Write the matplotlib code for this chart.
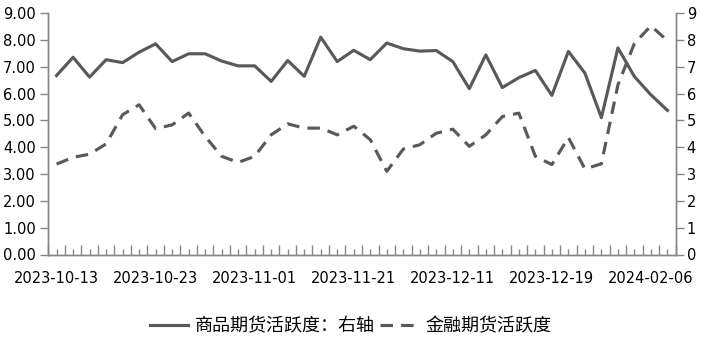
import matplotlib
matplotlib.use("Agg")
import matplotlib.pyplot as plt
from matplotlib.ticker import FixedLocator, FuncFormatter

plt.rcParams['font.family'] = ['DejaVu Sans']

# 38 observations, labels every 6th
date_labels = ["2023-10-13", "2023-10-23", "2023-11-01", "2023-11-21",
               "2023-12-11", "2023-12-19", "2024-02-06"]
label_step = 6

commodity = [6.67, 7.35, 6.61, 7.26, 7.15, 7.54, 7.85, 7.19, 7.48, 7.48,
             7.21, 7.03, 7.03, 6.45, 7.23, 6.64, 8.10, 7.19, 7.61, 7.26,
             7.88, 7.67, 7.58, 7.60, 7.19, 6.18, 7.44, 6.22, 6.59, 6.86,
             5.93, 7.57, 6.76, 5.10, 7.70, 6.63, 5.95, 5.37]
financial = [3.37, 3.62, 3.74, 4.12, 5.21, 5.58, 4.69, 4.83, 5.27, 4.40,
             3.66, 3.43, 3.66, 4.46, 4.87, 4.71, 4.71, 4.46, 4.78, 4.28,
             3.10, 3.93, 4.09, 4.52, 4.67, 4.03, 4.46, 5.14, 5.27, 3.66,
             3.35, 4.36, 3.19, 3.38, 6.32, 7.87, 8.52, 7.97]

n = len(commodity)
x = list(range(n))
line_c = '#595959'
axis_c = '#868686'

fig = plt.figure(figsize=(7.01, 3.44), dpi=100)
ax = fig.add_axes([48.3 / 701, 89.5 / 344, 627.4 / 701, 241.5 / 344])
ax2 = ax.twinx()

l2, = ax.plot(x, financial, color=line_c, lw=2.25, dashes=(4, 2.6),
              label='金融期货活跃度')
l1, = ax2.plot(x, commodity, color=line_c, lw=2.25,
               label='商品期货活跃度：右轴')

for a in (ax, ax2):
    a.set_xlim(-0.5, n - 0.5)
    a.set_ylim(0, 9)
    a.spines['top'].set_visible(False)
    for s in ('left', 'right', 'bottom'):
        a.spines[s].set_color(axis_c)
        a.spines[s].set_linewidth(1)

ax.set_yticks(range(10))
ax.yaxis.set_major_formatter(FuncFormatter(lambda v, p: f"{v:.2f}"))
ax.tick_params(axis='y', direction='out', length=6, width=1, color=axis_c,
               labelsize=10.5, pad=3, labelcolor='black')
ax2.set_yticks(range(10))
ax2.tick_params(axis='y', direction='out', length=6, width=1, color=axis_c,
                labelsize=10.5, pad=2, labelcolor='black')

ax.xaxis.set_major_locator(FixedLocator(x))
ax.set_xticklabels([date_labels[i // label_step] if i % label_step == 0 else ''
                    for i in x])
ax.xaxis.set_minor_locator(FixedLocator([i + 0.5 for i in range(-1, n)]))
ax.tick_params(axis='x', which='major', direction='in', length=4, width=1,
               color=axis_c, labelsize=10.5, pad=12, labelcolor='black')
ax.tick_params(axis='x', which='minor', direction='in', length=7, width=1,
               color=axis_c)

fig.legend(handles=[l1, l2], loc='center', bbox_to_anchor=(0.5, 1 - 326 / 344),
           ncol=2, frameon=False, handlelength=2.1, handletextpad=0.4,
           columnspacing=0.3,
           prop={'family': ['Noto Sans CJK SC', 'DejaVu Sans'], 'size': 13})

fig.savefig('out.png', dpi=100)
